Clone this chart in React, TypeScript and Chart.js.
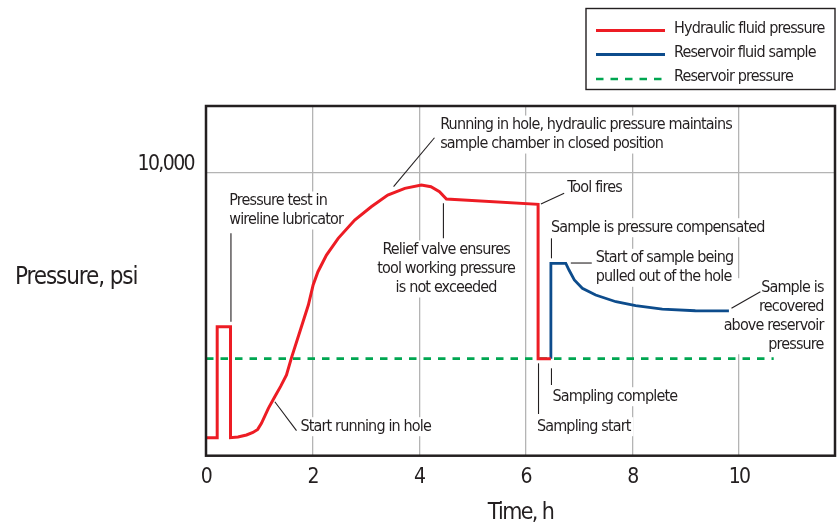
import { useEffect, useRef } from "react";
import { Chart, registerables, Plugin } from "chart.js";

Chart.register(...registerables);

/* ---------------- Data ---------------- */

const seriesLabels = [
  "Hydraulic fluid pressure",
  "Reservoir fluid sample",
  "Reservoir pressure",
];

// hydraulic fluid pressure, hours / psi
const hydraulicTime = [
  0, 0.21, 0.21, 0.46, 0.46, 0.6, 0.76, 0.88, 0.97, 1.04, 1.17, 1.29, 1.4,
  1.51, 1.6, 1.76, 1.92, 2.01, 2.1, 2.26, 2.48, 2.79, 3.1, 3.41, 3.73, 4.04,
  4.22, 4.38, 4.51, 6.23, 6.23, 6.47,
];
const hydraulicPsi = [
  636, 636, 4559, 4559, 636, 660, 732, 820, 930, 1145, 1675, 2085, 2450,
  2852, 3442, 4382, 5326, 6033, 6503, 7093, 7683, 8330, 8800, 9213, 9450, 9567,
  9507, 9330, 9072, 8884, 3430, 3430,
];

// reservoir fluid sample
const sampleTime = [6.47, 6.47, 6.75, 6.81, 6.91, 7.06, 7.31, 7.69, 8.06, 8.56, 9.18, 9.81];
const samplePsi = [3430, 6800, 6800, 6563, 6210, 5916, 5679, 5442, 5301, 5184, 5124, 5120];

// reservoir pressure
const reservoirTime = [0, 10.65];
const reservoirPsi = [3430, 3430];

const timeTicks = [0, 2, 4, 6, 8, 10];
const pressureTicks = [10000];

const noteText = [
  ["Pressure test in", "wireline lubricator"],
  ["Running in hole, hydraulic pressure maintains", "sample chamber in closed position"],
  ["Relief valve ensures", "tool working pressure", "is not exceeded"],
  ["Tool fires"],
  ["Sample is pressure compensated"],
  ["Start of sample being", "pulled out of the hole"],
  ["Sample is", "recovered", "above reservoir", "pressure"],
  ["Sampling complete"],
  ["Sampling start"],
  ["Start running in hole"],
];

/* ---------------- Styling ---------------- */

const FONT =
  "'Liberation Sans Narrow', 'DejaVu Sans Condensed', 'Roboto Condensed', Roboto, sans-serif";
const INK = "#231f20";
const RED = "#ed1c24";
const BLUE = "#0d4c8c";
const GREEN = "#00a651";
const GRID = "#b4b4b4";

// anchor (first line), alignment and leader line, in hours / psi
type NotePlace = {
  x: number;
  y: number;
  align: CanvasTextAlign;
  leader: [number, number, number, number];
};

const notePlaces: NotePlace[] = [
  { x: 0.436, y: 9001, align: "left", leader: [0.468, 7860, 0.468, 4736] },
  { x: 4.393, y: 11687, align: "left", leader: [3.519, 9507, 4.286, 11238] },
  { x: 4.505, y: 7270, align: "center", leader: [4.454, 8920, 4.454, 7683] },
  { x: 6.775, y: 9450, align: "left", leader: [6.283, 8895, 6.719, 9273] },
  { x: 6.47, y: 8058, align: "left", leader: [6.481, 7683, 6.481, 6976] },
  { x: 7.312, y: 6976, align: "left", leader: [6.844, 6810, 7.237, 6810] },
  { x: 11.585, y: 5937, align: "right", leader: [9.858, 5209, 10.4, 5796] },
  { x: 6.5, y: 2085, align: "left", leader: [6.481, 3089, 6.481, 2499] },
  { x: 6.208, y: 1025, align: "left", leader: [6.238, 3265, 6.238, 1474] },
  { x: 1.772, y: 1025, align: "left", leader: [1.291, 1908, 1.698, 884] },
];

const NOTE_LINE = 19;

// the installed condensed face is wider than the original, tighten it
const setSpacing = (ctx: CanvasRenderingContext2D, px: number) => {
  (ctx as any).letterSpacing = `${px}px`;
};

/* ---------------- Plugins ---------------- */

const spacingPlugin: Plugin<"line"> = {
  id: "spacing",
  beforeDraw(chart) {
    setSpacing(chart.ctx, -1.6);
  },
};

const notesPlugin: Plugin<"line"> = {
  id: "notes",
  beforeDatasetsDraw(chart) {
    const { ctx, scales } = chart;
    const sx = scales.x;
    const sy = scales.y;
    ctx.save();
    setSpacing(ctx, -0.85);
    ctx.font = `16px ${FONT}`;
    ctx.textBaseline = "middle";
    notePlaces.forEach((p, i) => {
      const lines = noteText[i];
      const px = sx.getPixelForValue(p.x);
      const py = sy.getPixelForValue(p.y);
      const w = Math.max(...lines.map((l) => ctx.measureText(l).width));
      let left = px;
      if (p.align === "center") left = px - w / 2;
      if (p.align === "right") left = px - w;
      ctx.fillStyle = "#ffffff";
      ctx.fillRect(left - 3, py - NOTE_LINE / 2, w + 6, NOTE_LINE * lines.length);
    });
    notePlaces.forEach((p, i) => {
      const lines = noteText[i];
      const px = sx.getPixelForValue(p.x);
      const py = sy.getPixelForValue(p.y);
      ctx.fillStyle = INK;
      ctx.textAlign = p.align;
      lines.forEach((l, k) => ctx.fillText(l, px, py + k * NOTE_LINE));
      const [x1, y1, x2, y2] = p.leader;
      ctx.strokeStyle = INK;
      ctx.lineWidth = 1.1;
      ctx.beginPath();
      ctx.moveTo(sx.getPixelForValue(x1), sy.getPixelForValue(y1));
      ctx.lineTo(sx.getPixelForValue(x2), sy.getPixelForValue(y2));
      ctx.stroke();
    });
    ctx.restore();
  },
};

const framePlugin: Plugin<"line"> = {
  id: "frame",
  afterDatasetsDraw(chart) {
    const { ctx, chartArea: a } = chart;
    ctx.save();
    ctx.strokeStyle = INK;
    ctx.lineWidth = 2.5;
    ctx.strokeRect(a.left, a.top, a.right - a.left, a.bottom - a.top);

    // horizontal y-axis title
    setSpacing(ctx, -1.1);
    ctx.fillStyle = INK;
    ctx.font = `24px ${FONT}`;
    ctx.textAlign = "left";
    ctx.textBaseline = "middle";
    ctx.fillText("Pressure, psi", 15, (a.top + a.bottom) / 2 - 3);
    ctx.restore();
  },
};

const legendPlugin: Plugin<"line"> = {
  id: "boxLegend",
  afterDraw(chart) {
    const { ctx } = chart;
    const rows = [30.5, 54.5, 79];
    ctx.save();
    setSpacing(ctx, -0.85);
    ctx.fillStyle = "#ffffff";
    ctx.fillRect(586, 8.5, 249, 81);
    ctx.strokeStyle = INK;
    ctx.lineWidth = 1.4;
    ctx.strokeRect(586, 8.5, 249, 81);
    ctx.font = `16px ${FONT}`;
    ctx.textAlign = "left";
    ctx.textBaseline = "middle";
    chart.data.datasets.forEach((ds, i) => {
      const y = rows[i];
      ctx.strokeStyle = ds.borderColor as string;
      ctx.lineWidth = (ds.borderWidth as number) ?? 2;
      ctx.setLineDash((ds.borderDash as number[]) ?? []);
      ctx.beginPath();
      ctx.moveTo(596, y);
      ctx.lineTo(665, y);
      ctx.stroke();
      ctx.setLineDash([]);
      ctx.fillStyle = INK;
      ctx.fillText(ds.label ?? "", 674, y - 2);
    });
    ctx.restore();
  },
};

/* ---------------- Component ---------------- */

const toPoints = (xs: number[], ys: number[]) =>
  xs.map((x, i) => ({ x, y: ys[i] }));

const App = () => {
  const canvasRef = useRef<HTMLCanvasElement | null>(null);
  const chartRef = useRef<Chart<"line", { x: number; y: number }[]> | null>(null);

  useEffect(() => {
    if (!canvasRef.current) return;
    if (chartRef.current) chartRef.current.destroy();

    chartRef.current = new Chart(canvasRef.current, {
      type: "line",
      data: {
        datasets: [
          {
            label: seriesLabels[0],
            data: toPoints(hydraulicTime, hydraulicPsi),
            borderColor: RED,
            borderWidth: 3,
            pointRadius: 0,
            tension: 0,
            borderJoinStyle: "miter",
          },
          {
            label: seriesLabels[1],
            data: toPoints(sampleTime, samplePsi),
            borderColor: BLUE,
            borderWidth: 2.8,
            pointRadius: 0,
            tension: 0,
            borderJoinStyle: "miter",
          },
          {
            label: seriesLabels[2],
            data: toPoints(reservoirTime, reservoirPsi),
            borderColor: GREEN,
            borderWidth: 2.6,
            borderDash: [7.5, 7],
            pointRadius: 0,
          },
        ],
      },
      options: {
        animation: false,
        responsive: true,
        maintainAspectRatio: false,
        layout: { padding: { top: 106, right: 3, left: 0, bottom: 0 } },
        plugins: {
          legend: { display: false },
          tooltip: { enabled: false },
        },
        scales: {
          x: {
            type: "linear",
            min: 0,
            max: 11.8,
            afterFit: (s) => {
              s.height = 71.3;
            },
            afterBuildTicks: (s) => {
              s.ticks = timeTicks.map((value) => ({ value }));
            },
            ticks: {
              color: INK,
              padding: 9,
              font: { family: FONT, size: 21 },
              callback: (v) => String(v),
            },
            grid: { color: GRID, lineWidth: 1.3, drawTicks: false },
            border: { display: false },
            title: {
              display: true,
              text: "Time, h",
              color: INK,
              font: { family: FONT, size: 23, lineHeight: 1 },
              padding: { top: 0, bottom: 2.5 },
            },
          },
          y: {
            type: "linear",
            min: 0,
            max: 12360,
            afterFit: (s) => {
              s.width = 206;
            },
            afterBuildTicks: (s) => {
              s.ticks = pressureTicks.map((value) => ({ value }));
            },
            ticks: {
              color: INK,
              padding: 12,
              labelOffset: -8,
              font: { family: FONT, size: 21 },
              callback: (v) => Number(v).toLocaleString("en-US"),
            },
            grid: { color: GRID, lineWidth: 1.3, drawTicks: false },
            border: { display: false },
          },
        },
      },
      plugins: [spacingPlugin, notesPlugin, framePlugin, legendPlugin],
    });

    return () => {
      if (chartRef.current) {
        chartRef.current.destroy();
        chartRef.current = null;
      }
    };
  }, []);

  return (
    <div
      style={{
        position: "fixed",
        left: 0,
        top: 0,
        width: 838,
        height: 527,
        background: "#ffffff",
      }}
    >
      <canvas ref={canvasRef}></canvas>
    </div>
  );
};

export default App;
